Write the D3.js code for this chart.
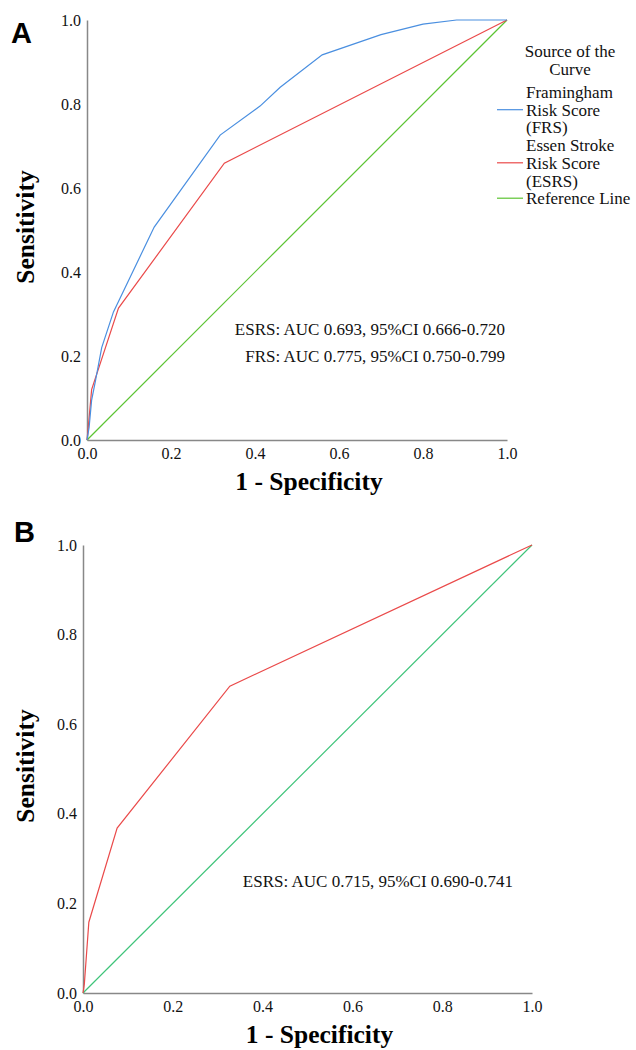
<!DOCTYPE html>
<html>
<head>
<meta charset="utf-8">
<script src="https://cdn.jsdelivr.net/npm/d3@7"></script>
<style>
  body { margin: 0; background: #fff; }
</style>
</head>
<body>
<script>
// ROC curve points, [1 - specificity, sensitivity]
var frsA = [[0,0],[0.005,0.03],[0.011,0.095],[0.02,0.14],[0.035,0.22],[0.063,0.305],[0.16,0.507],
            [0.317,0.726],[0.412,0.795],[0.46,0.84],[0.56,0.917],[0.70,0.965],[0.80,0.99],[0.88,1.0],[1,1]];
var esrsA = [[0,0],[0.003,0.03],[0.011,0.12],[0.075,0.314],[0.327,0.659],[1,1]];
var esrsB = [[0,0],[0.003,0.02],[0.013,0.158],[0.076,0.368],[0.327,0.685],[1,1]];
var refLine = [[0,0],[1,1]];

var ticks = [0, 0.2, 0.4, 0.6, 0.8, 1.0];
var legendTitle = ["Source of the", "Curve"];
var legendItems = [
  { lines: ["Framingham", "Risk Score", "(FRS)"], color: "#4a8fe0" },
  { lines: ["Essen Stroke", "Risk Score", "(ESRS)"], color: "#ea4a4a" },
  { lines: ["Reference Line"], color: "#5cc433" }
];
var notesA = ["ESRS: AUC 0.693, 95%CI 0.666-0.720", "FRS: AUC 0.775, 95%CI 0.750-0.799"];
var notesB = ["ESRS: AUC 0.715, 95%CI 0.690-0.741"];

var SERIF = "'Liberation Serif', Tinos, 'Times New Roman', 'DejaVu Serif', serif";

var svg = d3.select("body").append("svg")
  .attr("width", 636).attr("height", 1050)
  .attr("font-family", SERIF);

function drawPanel(opts) {
  var x = d3.scaleLinear().domain([0, 1]).range([opts.left, opts.right]);
  var y = d3.scaleLinear().domain([0, 1]).range([opts.bottom, opts.top]);
  var g = svg.append("g");

  // axes
  var xa = g.append("g").attr("transform", "translate(0," + opts.bottom + ")")
    .call(d3.axisBottom(x).tickValues(ticks).tickSize(0).tickPadding(8).tickFormat(d3.format(".1f")));
  var ya = g.append("g").attr("transform", "translate(" + opts.left + ",0)")
    .call(d3.axisLeft(y).tickValues(ticks).tickSize(0).tickPadding(6).tickFormat(d3.format(".1f")));
  [xa, ya].forEach(function(a) {
    a.attr("font-family", SERIF).attr("font-size", 16);
    a.select(".domain").attr("stroke", "#888").attr("stroke-width", 1.5);
    a.selectAll("text").attr("fill", "#111");
  });

  var line = d3.line().x(function(d) { return x(d[0]); }).y(function(d) { return y(d[1]); });
  opts.series.forEach(function(s) {
    g.append("path").datum(s.data)
      .attr("fill", "none").attr("stroke", s.color).attr("stroke-width", 1.2)
      .attr("d", line);
  });

  // AUC notes
  opts.notes.forEach(function(t, i) {
    g.append("text").attr("x", opts.noteX).attr("y", opts.noteY + i * 27)
      .attr("text-anchor", "end").attr("font-size", 17).attr("fill", "#111").text(t);
  });

  // axis titles
  g.append("text").attr("x", (opts.left + opts.right) / 2 + 12).attr("y", opts.bottom + 50)
    .attr("text-anchor", "middle").attr("font-size", 25.5).attr("font-weight", "bold")
    .text("1 - Specificity");
  g.append("text").attr("transform", "translate(34," + ((opts.top + opts.bottom) / 2 - 3) + ") rotate(-90)")
    .attr("text-anchor", "middle").attr("font-size", 25.5).attr("font-weight", "bold")
    .text("Sensitivity");

  g.append("text").attr("x", opts.labelX).attr("y", opts.labelY)
    .attr("font-family", "'Liberation Sans', Arial, sans-serif")
    .attr("font-size", 29).attr("font-weight", "bold").text(opts.label);
}

drawPanel({
  left: 87, right: 507, top: 20, bottom: 440, label: "A", labelX: 11, labelY: 43,
  series: [
    { data: refLine, color: "#5cc433" },
    { data: esrsA, color: "#ea4a4a" },
    { data: frsA, color: "#4a8fe0" }
  ],
  notes: notesA, noteX: 505, noteY: 335
});

drawPanel({
  left: 83, right: 532, top: 545, bottom: 993, label: "B", labelX: 14, labelY: 542,
  series: [
    { data: refLine, color: "#3fc47a" },
    { data: esrsB, color: "#ea4a4a" }
  ],
  notes: notesB, noteX: 513, noteY: 887
});

// legend for panel A
var leg = svg.append("g").attr("font-size", 17).attr("fill", "#111");
legendTitle.forEach(function(t, i) {
  leg.append("text").attr("x", 570).attr("y", 57 + i * 17.5).attr("text-anchor", "middle").text(t);
});
var ly = 98, lh = 17.7;
legendItems.forEach(function(item) {
  item.lines.forEach(function(t, i) {
    leg.append("text").attr("x", 526).attr("y", ly + i * lh).text(t);
  });
  var lineY = item.lines.length > 1 ? ly + lh - 6 : ly - 6;
  leg.append("line").attr("x1", 497).attr("x2", 523).attr("y1", lineY).attr("y2", lineY)
    .attr("stroke", item.color).attr("stroke-width", 1.2);
  ly += item.lines.length * lh;
});
</script>
</body>
</html>
